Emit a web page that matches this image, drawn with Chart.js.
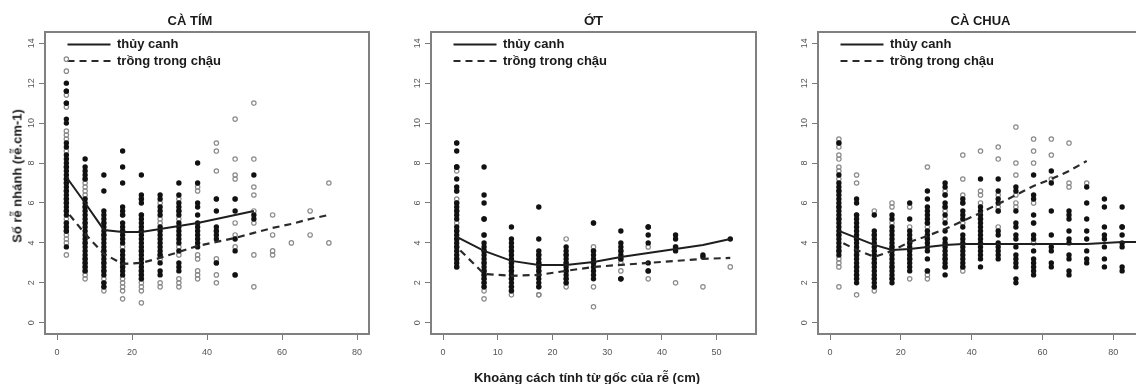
<!DOCTYPE html>
<html>
<head>
<meta charset="utf-8">
<script src="https://cdn.jsdelivr.net/npm/chart.js@4.4.1/dist/chart.umd.min.js"></script>
<style>
html, body { margin: 0; padding: 0; background: #fff; overflow: hidden; width: 1136px; height: 384px; }
canvas { position: absolute; top: 0; }
.lab { position: absolute; font: bold 13px "Liberation Sans", Arial, sans-serif; color: #1a1a1a; white-space: nowrap; }
#ytitle { left: 17px; top: 176px; transform: translate(-50%, -50%) rotate(-90deg); }
#xtitle { left: 587px; top: 377px; transform: translate(-50%, -50%); }
</style>
</head>
<body>
<canvas id="p1" width="380" height="384" style="left:0px"></canvas>
<canvas id="p2" width="370" height="384" style="left:400px"></canvas>
<canvas id="p3" width="367" height="384" style="left:790px"></canvas>
<div class="lab" id="ytitle">Số rễ nhánh (rễ.cm-1)</div>
<div class="lab" id="xtitle">Khoảng cách tính từ gốc của rễ (cm)</div>
<script>
const Y_TICKS = [0, 2, 4, 6, 8, 10, 12, 14];

// ---- CÀ TÍM ----
const TIM_X = [2.5, 7.5, 12.5, 17.5, 22.5, 27.5, 32.5, 37.5, 42.5, 47.5, 52.5, 57.5, 62.5, 67.5, 72.5];
const TIM_X_TICKS = [0, 20, 40, 60, 80];
const TIM_HYDRO_PTS = [
    [12.0, 11.6, 11.6, 11.0, 11.0, 10.2, 10.0, 9.0, 8.8, 8.4, 8.2, 8.0, 7.8, 7.6, 7.4, 7.2, 7.0, 6.8, 6.6, 6.4, 6.2, 6.0, 5.8, 5.6, 5.4, 5.0, 4.8, 4.6, 4.6, 3.8],
    [8.2, 7.8, 7.6, 7.4, 7.2, 6.2, 6.0, 5.8, 5.6, 5.4, 5.2, 5.0, 4.8, 4.6, 4.4, 4.2, 4.0, 3.8, 3.6, 3.4, 3.2, 3.0, 2.8, 2.6],
    [7.4, 6.6, 5.6, 5.4, 5.2, 5.0, 4.8, 4.6, 4.4, 4.2, 4.0, 3.8, 3.6, 3.4, 3.2, 3.0, 2.8, 2.6, 2.4, 2.0, 1.8],
    [8.6, 7.8, 7.0, 5.8, 5.6, 5.4, 5.0, 4.8, 4.6, 4.4, 4.2, 4.0, 3.6, 3.4, 3.2, 3.0, 2.8, 2.6, 2.4],
    [7.4, 6.4, 6.2, 6.0, 5.4, 5.2, 5.0, 4.8, 4.6, 4.4, 4.2, 4.0, 3.8, 3.6, 3.4, 3.2, 3.0, 2.8, 2.6, 2.4, 2.2],
    [6.4, 6.2, 5.8, 5.6, 5.4, 4.8, 4.6, 4.4, 4.2, 4.0, 3.8, 3.6, 3.4, 3.0, 2.6, 2.4],
    [7.0, 6.4, 6.0, 5.8, 5.6, 5.4, 5.0, 4.8, 4.6, 4.4, 4.2, 4.0, 3.6, 3.0, 2.8, 2.6],
    [8.0, 7.0, 6.0, 5.8, 5.4, 5.0, 4.8, 4.6, 4.4, 4.2, 4.0, 3.8],
    [6.2, 5.6, 4.8, 4.6, 4.4, 4.2, 3.0],
    [6.2, 5.6, 4.2, 3.6, 2.4],
    [7.4, 5.4, 5.2],
    [], [], [], []
];
const TIM_POT_PTS = [
    [13.2, 12.6, 11.4, 10.8, 9.6, 9.4, 9.2, 8.6, 7.8, 7.2, 7.0, 6.6, 6.2, 6.0, 5.6, 5.2, 5.0, 4.8, 4.4, 4.2, 4.0, 3.4],
    [7.2, 7.0, 6.8, 6.6, 6.4, 5.8, 5.0, 4.0, 3.2, 3.0, 2.8, 2.6, 2.4, 2.2],
    [5.0, 4.4, 3.6, 3.0, 2.6, 2.2, 2.0, 1.8, 1.6],
    [5.4, 4.6, 3.8, 3.0, 2.8, 2.2, 2.0, 1.8, 1.6, 1.2],
    [6.2, 5.4, 4.6, 3.6, 2.6, 2.4, 2.2, 2.0, 1.8, 1.6, 1.0],
    [6.0, 5.2, 5.0, 3.4, 3.2, 2.0, 1.8],
    [6.2, 5.6, 5.2, 3.8, 3.4, 2.2, 2.0, 1.8],
    [6.8, 6.6, 3.4, 3.2, 2.6, 2.4, 2.2],
    [9.0, 8.6, 7.6, 6.2, 4.6, 3.2, 3.0, 2.4, 2.0],
    [10.2, 8.2, 7.4, 7.2, 6.2, 5.0, 4.4, 3.8, 2.4],
    [11.0, 8.2, 6.8, 6.4, 5.6, 5.0, 3.4, 1.8],
    [5.4, 4.4, 3.6, 3.4],
    [4.0],
    [5.6, 4.4],
    [7.0, 4.0]
];
const TIM_HYDRO_LINE = [7.3, 6.0, 4.65, 4.55, 4.55, 4.7, 4.85, 5.0, 5.2, 5.4, 5.6];
const TIM_POT_LINE = [5.6, 4.45, 3.45, 2.95, 3.0, 3.25, 3.55, 3.85, 4.05, 4.25, 4.5, 4.75, 4.95, 5.2, 5.4];

// ---- ỚT ----
const OT_X = [2.5, 7.5, 12.5, 17.5, 22.5, 27.5, 32.5, 37.5, 42.5, 47.5, 52.5];
const OT_X_TICKS = [0, 10, 20, 30, 40, 50];
const OT_HYDRO_PTS = [
    [9.0, 8.6, 7.8, 7.8, 7.2, 6.8, 6.6, 6.0, 5.8, 5.6, 5.4, 5.2, 4.8, 4.6, 4.4, 4.2, 4.0, 3.8, 3.6, 3.4, 3.2, 3.0, 2.8],
    [7.8, 6.4, 6.0, 5.2, 5.2, 4.4, 4.0, 3.8, 3.6, 3.4, 3.2, 3.0, 2.8, 2.6, 2.4, 2.2, 2.0, 1.8],
    [4.8, 4.2, 4.0, 3.8, 3.6, 3.4, 3.2, 3.0, 2.8, 2.6, 2.4, 2.2, 2.0, 1.8, 1.6],
    [5.8, 4.2, 3.6, 3.4, 3.2, 3.0, 2.8, 2.6, 2.4, 2.2, 2.0, 1.8],
    [3.8, 3.6, 3.4, 3.2, 3.0, 2.8, 2.6, 2.4, 2.2, 2.0],
    [5.0, 3.6, 3.4, 3.2, 3.0, 2.8, 2.6, 2.4, 2.2],
    [4.6, 4.0, 3.8, 3.6, 3.4, 3.2, 2.2, 2.2],
    [4.8, 4.8, 4.4, 4.0, 3.0, 2.6, 2.6],
    [4.4, 4.2, 3.8, 3.6],
    [3.4, 3.3],
    [4.2]
];
const OT_POT_PTS = [
    [9.0, 7.8, 7.6, 6.6, 6.2, 6.0, 5.6, 5.0, 4.6, 4.2, 3.8, 3.2, 2.8],
    [4.4, 3.6, 3.0, 2.6, 2.4, 2.2, 2.0, 1.8, 1.6, 1.2],
    [3.6, 3.0, 2.6, 2.2, 1.8, 1.6, 1.4],
    [3.4, 3.0, 2.6, 1.8, 1.4, 1.4],
    [4.2, 3.4, 3.0, 2.6, 2.2, 2.0, 1.8],
    [5.0, 3.8, 3.6, 3.0, 1.8, 0.8],
    [3.6, 3.2, 3.0, 2.6, 2.2],
    [3.8, 2.2],
    [3.8, 2.0],
    [1.8],
    [2.8]
];
const OT_HYDRO_LINE = [4.3, 3.6, 3.1, 2.9, 2.9, 3.05, 3.3, 3.5, 3.7, 3.9, 4.2];
const OT_POT_LINE = [3.8, 2.45, 2.35, 2.4, 2.6, 2.8, 2.9, 3.0, 3.1, 3.2, 3.25];

// ---- CÀ CHUA ----
const CC_X = [2.5, 7.5, 12.5, 17.5, 22.5, 27.5, 32.5, 37.5, 42.5, 47.5, 52.5, 57.5, 62.5, 67.5, 72.5, 77.5, 82.5, 87.5];
const CC_X_TICKS = [0, 20, 40, 60, 80];
const CC_HYDRO_PTS = [
    [9.0, 7.4, 7.0, 6.8, 6.6, 6.4, 6.2, 6.0, 5.8, 5.6, 5.4, 5.2, 5.0, 4.8, 4.6, 4.4, 4.2, 4.0, 3.8, 3.6, 3.4],
    [6.2, 6.0, 5.4, 5.2, 5.0, 4.8, 4.6, 4.4, 4.2, 4.0, 3.8, 3.6, 3.4, 3.2, 3.0, 2.8, 2.6, 2.4, 2.2, 2.0],
    [5.4, 4.6, 4.4, 4.2, 4.0, 3.8, 3.6, 3.4, 3.2, 3.0, 2.8, 2.6, 2.4, 2.2, 2.0, 1.8],
    [5.4, 5.2, 4.8, 4.6, 4.4, 4.2, 4.0, 3.8, 3.6, 3.4, 3.2, 3.0, 2.8, 2.6, 2.4, 2.2, 2.0],
    [6.0, 5.2, 4.6, 4.4, 4.2, 4.0, 3.8, 3.6, 3.4, 3.2, 3.0, 2.8, 2.6],
    [6.6, 6.2, 5.8, 5.6, 5.4, 5.2, 5.0, 4.6, 4.4, 4.2, 4.0, 3.8, 3.6, 3.2, 2.6],
    [7.0, 6.8, 6.4, 6.0, 5.8, 5.4, 5.0, 4.6, 4.2, 4.0, 3.8, 3.6, 3.4, 3.2, 3.0, 2.8, 2.4],
    [6.2, 6.0, 5.6, 5.4, 5.2, 4.8, 4.4, 4.2, 4.0, 3.8, 3.6, 3.4, 3.2, 3.0, 2.8],
    [7.2, 5.8, 5.6, 5.4, 5.2, 5.0, 4.8, 4.6, 4.4, 4.2, 4.0, 3.8, 3.6, 3.4, 3.2, 2.8],
    [7.2, 6.6, 6.2, 6.0, 5.6, 4.6, 4.4, 4.0, 3.8, 3.6, 3.4, 3.2],
    [6.8, 6.6, 5.6, 5.0, 4.8, 4.4, 4.2, 3.8, 3.4, 3.2, 3.0, 2.8, 2.2, 2.0],
    [7.4, 6.4, 6.2, 5.4, 5.0, 4.4, 4.2, 3.6, 3.2, 3.0, 2.8, 2.6, 2.4],
    [7.6, 7.0, 5.6, 4.4, 3.8, 3.6, 3.0, 2.8],
    [5.6, 5.4, 5.2, 4.6, 4.2, 4.0, 3.4, 3.2, 2.6, 2.4],
    [6.8, 6.0, 5.2, 4.6, 4.2, 3.6, 3.2, 3.0],
    [6.2, 5.8, 4.8, 4.4, 4.2, 3.8, 3.2, 2.8],
    [5.8, 4.8, 4.8, 4.4, 4.0, 3.8, 2.8, 2.6],
    []
];
const CC_POT_PTS = [
    [9.2, 9.0, 8.8, 8.4, 8.2, 7.8, 7.6, 7.2, 6.6, 5.8, 5.2, 4.4, 3.6, 3.2, 3.0, 2.8, 1.8],
    [7.4, 7.0, 5.4, 4.2, 3.4, 2.8, 2.4, 2.2, 1.4],
    [5.6, 4.4, 3.0, 2.2, 1.8, 1.6],
    [6.0, 5.8, 5.0, 3.8, 2.8, 2.2],
    [5.8, 4.8, 4.0, 3.2, 2.2],
    [7.8, 5.0, 4.8, 4.2, 2.6, 2.4, 2.2],
    [6.6, 6.4, 5.8, 5.6, 5.2, 3.2, 2.8],
    [8.4, 7.2, 6.4, 6.0, 5.0, 2.8, 2.6],
    [8.6, 6.6, 6.4, 6.0, 5.2],
    [8.8, 8.2, 6.4, 5.8, 5.6, 4.8],
    [9.8, 8.0, 7.4, 6.4, 6.0, 5.8],
    [9.2, 8.6, 8.0, 6.0, 5.0, 4.0],
    [9.2, 8.4, 7.2],
    [9.0, 7.0, 6.8],
    [7.0],
    [], [], []
];
const CC_HYDRO_LINE = [4.6, 4.25, 3.9, 3.65, 3.7, 3.8, 3.9, 3.95, 3.95, 3.95, 3.95, 3.95, 3.95, 3.95, 3.95, 4.0, 4.05, 4.05];
const CC_POT_LINE = [4.1, 3.65, 3.3, 3.6, 4.05, 4.35, 4.7, 5.1, 5.5, 5.95, 6.4, 6.85, 7.2, 7.6, 8.1];

const LABEL_HYDRO = 'thủy canh';
const LABEL_POT = 'trồng trong chậu';

Chart.defaults.font.family = '"Liberation Sans", Arial, sans-serif';

function columnPoints(xs, cols) {
    const out = [];
    cols.forEach((ys, i) => ys.forEach(y => out.push({ x: xs[i], y: y })));
    return out;
}

function linePoints(xs, ys) {
    return ys.map((y, i) => ({ x: xs[i], y: y }));
}

// full frame round the plot region, like R's box()
const framePlugin = {
    id: 'frame',
    afterDatasetsDraw(chart) {
        const { ctx, chartArea: a } = chart;
        ctx.save();
        ctx.strokeStyle = '#808080';
        ctx.lineWidth = 2;
        ctx.strokeRect(a.left, a.top, a.right - a.left, a.bottom - a.top);
        ctx.restore();
    }
};

// legend sits inside the plot, a little in from the top-left corner
const legendShift = {
    id: 'legendShift',
    afterLayout(chart) {
        const legend = chart.legend;
        legend.left = chart.chartArea.left + 19;
        legend.top = chart.chartArea.top + 2.5;
        legend.bottom = chart.chartArea.bottom;
    }
};

function makePanel(id, cfg) {
    const tickGrid = { display: true, drawOnChartArea: false, drawTicks: true, tickLength: 6, color: '#7a7a7a', lineWidth: 1 };
    return new Chart(document.getElementById(id), {
        type: 'scatter',
        data: {
            datasets: [
                {
                    label: LABEL_HYDRO,
                    data: linePoints(cfg.xs, cfg.hydroLine),
                    showLine: true,
                    borderColor: '#1e1e1e',
                    borderWidth: 2,
                    pointRadius: 0,
                    pointHoverRadius: 0
                },
                {
                    label: LABEL_POT,
                    data: linePoints(cfg.xs, cfg.potLine),
                    showLine: true,
                    borderColor: '#2a2a2a',
                    borderWidth: 2.2,
                    borderDash: [7, 5],
                    borderDashOffset: 7,
                    pointRadius: 0,
                    pointHoverRadius: 0
                },
                {
                    label: 'hydro',
                    data: columnPoints(cfg.xs, cfg.hydroPts),
                    backgroundColor: '#111',
                    borderColor: '#111',
                    borderWidth: 0,
                    pointRadius: 2.7
                },
                {
                    label: 'pot',
                    data: columnPoints(cfg.xs, cfg.potPts),
                    backgroundColor: 'rgba(255,255,255,0)',
                    borderColor: '#8a8a8a',
                    borderWidth: 1.2,
                    pointRadius: 2.2
                }
            ]
        },
        options: {
            responsive: false,
            animation: false,
            devicePixelRatio: 1,
            layout: { padding: { left: cfg.padLeft, right: cfg.padRight, top: 0, bottom: 0 } },
            plugins: {
                tooltip: { enabled: false },
                title: {
                    display: true,
                    text: cfg.title,
                    fullSize: cfg.titleFull,
                    color: '#1a1a1a',
                    font: { size: 13, weight: 'bold' },
                    padding: { top: 13.5, bottom: 2.9 }
                },
                legend: {
                    position: 'chartArea',
                    align: 'start',
                    labels: {
                        usePointStyle: true,
                        pointStyleWidth: 43,
                        padding: 3.5,
                        color: '#1a1a1a',
                        font: { size: 13, weight: 'bold' },
                        generateLabels: chart => chart.data.datasets.slice(0, 2).map((ds, i) => ({
                            text: ds.label,
                            fillStyle: 'rgba(0,0,0,0)',
                            strokeStyle: ds.borderColor,
                            lineWidth: ds.borderWidth,
                            lineDash: ds.borderDash || [],
                            lineDashOffset: 0,
                            pointStyle: 'line',
                            fontColor: '#1a1a1a',
                            hidden: false,
                            datasetIndex: i
                        }))
                    }
                }
            },
            scales: {
                x: {
                    type: 'linear',
                    min: cfg.xMin,
                    max: cfg.xMax,
                    afterBuildTicks: s => { s.ticks = cfg.xTicks.map(v => ({ value: v })); },
                    afterFit: s => { s.height = 50; },
                    grid: tickGrid,
                    border: { display: false },
                    ticks: { autoSkip: false, maxRotation: 0, padding: 7, color: '#555', font: { size: 9 } }
                },
                y: {
                    type: 'linear',
                    min: -0.56,
                    max: 14.56,
                    afterBuildTicks: s => { s.ticks = Y_TICKS.map(v => ({ value: v })); },
                    afterFit: s => { s.width = cfg.yWidth; },
                    grid: tickGrid,
                    border: { display: false },
                    ticks: { autoSkip: false, minRotation: 90, maxRotation: 90, crossAlign: 'center', padding: 2, color: '#555', font: { size: 9 } }
                }
            }
        },
        plugins: [framePlugin, legendShift]
    });
}

makePanel('p1', {
    title: 'CÀ TÍM', titleFull: true,
    xs: TIM_X, hydroPts: TIM_HYDRO_PTS, potPts: TIM_POT_PTS,
    hydroLine: TIM_HYDRO_LINE, potLine: TIM_POT_LINE,
    xMin: -3.2, xMax: 83.2, xTicks: TIM_X_TICKS,
    padLeft: 11, padRight: 11, yWidth: 34
});

makePanel('p2', {
    title: 'ỚT', titleFull: false,
    xs: OT_X, hydroPts: OT_HYDRO_PTS, potPts: OT_POT_PTS,
    hydroLine: OT_HYDRO_LINE, potLine: OT_POT_LINE,
    xMin: -2.2, xMax: 57.2, xTicks: OT_X_TICKS,
    padLeft: 0, padRight: 14, yWidth: 31
});

makePanel('p3', {
    title: 'CÀ CHUA', titleFull: false,
    xs: CC_X, hydroPts: CC_HYDRO_PTS, potPts: CC_POT_PTS,
    hydroLine: CC_HYDRO_LINE, potLine: CC_POT_LINE,
    xMin: -3.4, xMax: 88.4, xTicks: CC_X_TICKS,
    padLeft: 0, padRight: 14, yWidth: 28
});
</script>
</body>
</html>
